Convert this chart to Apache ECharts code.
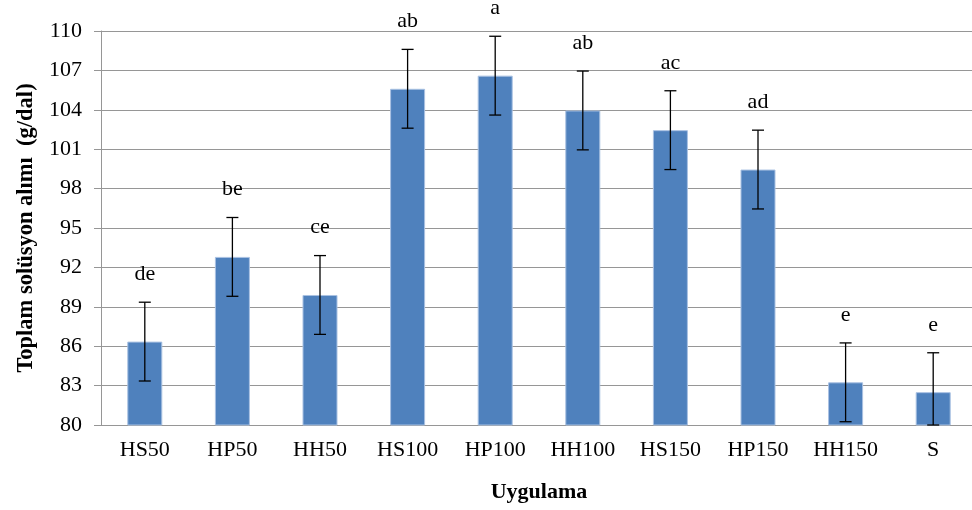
<!DOCTYPE html>
<html>
<head>
<meta charset="utf-8">
<script src="https://cdn.jsdelivr.net/npm/echarts@6/dist/echarts.min.js"></script>
<style>html,body{margin:0;padding:0;background:#fff;overflow:hidden;}#c{width:972px;height:510px;}</style>
</head>
<body>
<div id="c"></div>
<script>
const categories = ['HS50','HP50','HH50','HS100','HP100','HH100','HS150','HP150','HH150','S'];
const values = [86.35, 92.8, 89.9, 105.6, 106.6, 103.95, 102.45, 99.45, 83.25, 82.5];
const errors = [3, 3, 3, 3, 3, 3, 3, 3, 3, 3];
const letters = ['de','be','ce','ab','a','ab','ac','ad','e','e'];
const yTicks = [80, 83, 86, 89, 92, 95, 98, 101, 104, 107, 110];

const FONT = '"Liberation Serif", "Times New Roman", serif';
const chart = echarts.init(document.getElementById('c'));
const yMin = yTicks[0], yMax = yTicks[yTicks.length-1];

chart.setOption({
  animation: false,
  backgroundColor: '#ffffff',
  grid: { left: 101, right: -5, top: 31, bottom: 85, containLabel: false, outerBoundsMode: 'none' },
  xAxis: {
    type: 'category',
    data: categories,
    name: 'Uygulama',
    nameLocation: 'middle',
    nameGap: 56,
    nameTextStyle: { fontFamily: FONT, fontSize: 22, fontWeight: 'bold', color: '#000' },
    axisLine: { lineStyle: { color: '#969696', width: 1 } },
    axisTick: { alignWithLabel: true, length: 7, lineStyle: { color: '#969696' } },
    axisLabel: { fontFamily: FONT, fontSize: 22, color: '#000', margin: 14 },
    splitLine: { show: false }
  },
  yAxis: {
    type: 'value',
    min: yMin, max: yMax, interval: yTicks[1]-yTicks[0],
    name: 'Toplam solüsyon alımı  (g/dal)',
    nameLocation: 'middle',
    nameGap: 63,
    nameTextStyle: { fontFamily: FONT, fontSize: 22.5, fontWeight: 'bold', color: '#000' },
    axisLine: { show: true, lineStyle: { color: '#969696', width: 1 } },
    axisTick: { show: true, length: 7, lineStyle: { color: '#969696' } },
    axisLabel: { fontFamily: FONT, fontSize: 22, color: '#000', margin: 19 },
    splitLine: { lineStyle: { color: '#969696', width: 1 } }
  },
  series: [
    {
      type: 'bar',
      data: values,
      barWidth: 35,
      itemStyle: { color: '#4F81BD', borderColor: '#a9c1e2', borderWidth: 1 }
    },
    {
      type: 'custom',
      data: values.map((v, i) => [i, v, errors[i]]),
      z: 10,
      clip: false,
      renderItem: function (params, api) {
        const i = api.value(0), v = api.value(1), e = api.value(2);
        const top = api.coord([i, Math.min(v + e, yMax)]);
        const bot = api.coord([i, Math.max(v - e, yMin)]);
        const x = top[0];
        const cap = 6;
        const ls = { stroke: '#000', lineWidth: 1.3 };
        return {
          type: 'group',
          children: [
            { type: 'line', shape: { x1: x, y1: top[1], x2: x, y2: bot[1] }, style: ls },
            { type: 'line', shape: { x1: x - cap, y1: top[1], x2: x + cap, y2: top[1] }, style: ls },
            { type: 'line', shape: { x1: x - cap, y1: bot[1], x2: x + cap, y2: bot[1] }, style: ls },
            { type: 'text', style: { text: letters[params.dataIndex], x: x, y: top[1] - 28,
              align: 'center', verticalAlign: 'middle', font: '22px ' + FONT, fill: '#000' } }
          ]
        };
      }
    }
  ]
});
</script>
</body>
</html>
